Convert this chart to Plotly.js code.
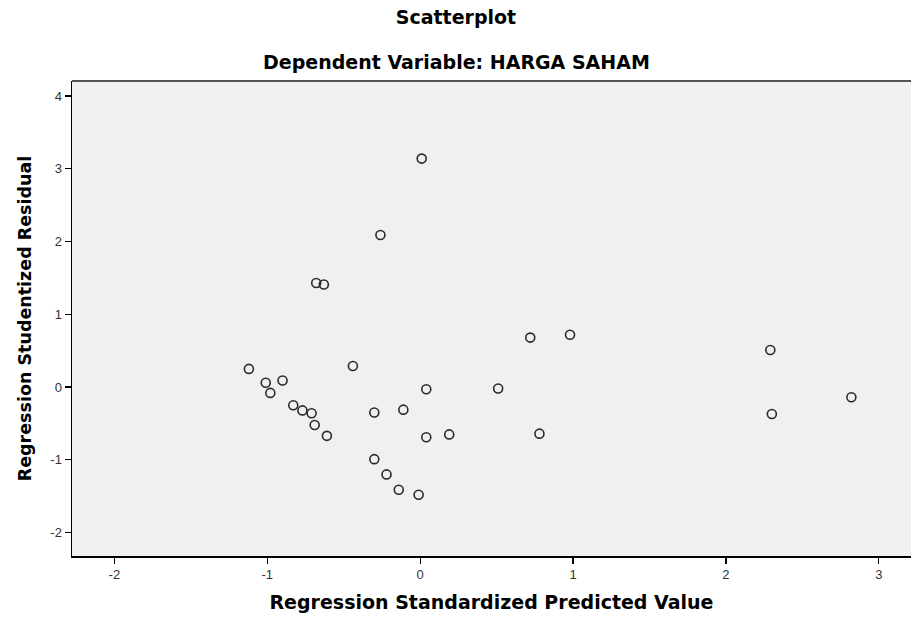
<!DOCTYPE html>
<html>
<head>
<meta charset="utf-8">
<script src="https://cdn.plot.ly/plotly-3.0.1.min.js"></script>
<style>
  html, body { margin: 0; padding: 0; background: #ffffff; }
  #chart { width: 912px; height: 618px; }
</style>
</head>
<body>
<div id="chart"></div>
<script>
// Regression Standardized Predicted Value
const predicted = [
  0.01, -0.26, -0.68, -0.63, -1.12, -0.44, -1.01, -0.90, -0.98, -0.83,
  -0.77, -0.71, -0.69, -0.61, -0.30, -0.11, 0.04, 0.04, -0.30, -0.22,
  -0.14, -0.01, 0.19, 0.51, 0.72, 0.98, 0.78, 2.29, 2.30, 2.82
];
// Regression Studentized Residual
const residual = [
  3.14, 2.09, 1.43, 1.41, 0.25, 0.29, 0.06, 0.09, -0.08, -0.25,
  -0.32, -0.36, -0.52, -0.67, -0.35, -0.31, -0.03, -0.69, -0.99, -1.20,
  -1.41, -1.48, -0.65, -0.02, 0.68, 0.72, -0.64, 0.51, -0.37, -0.14
];
const xTicks = [-2, -1, 0, 1, 2, 3];
const yTicks = [-2, -1, 0, 1, 2, 3, 4];

const titleFont = { family: 'DejaVu Sans, Liberation Sans, Arial, sans-serif', size: 19, color: '#000000', weight: 'bold' };

const trace = {
  type: 'scatter',
  mode: 'markers',
  x: predicted,
  y: residual,
  marker: {
    symbol: 'circle-open',
    size: 9,
    color: '#2a2a2a',
    line: { width: 1.6, color: '#2a2a2a' }
  },
  hoverinfo: 'x+y',
  showlegend: false
};

const layout = {
  width: 912,
  height: 618,
  margin: { l: 72, r: 1, t: 81, b: 62 },
  paper_bgcolor: '#ffffff',
  plot_bgcolor: '#f0f0f0',
  title: {
    text: '<b>Scatterplot</b>',
    font: titleFont,
    xref: 'container',
    x: 0.5,
    xanchor: 'center',
    yref: 'container',
    y: 0.972,
    yanchor: 'middle'
  },
  xaxis: {
    range: [-2.277, 3.21],
    tickvals: xTicks,
    ticktext: xTicks.map(String),
    ticks: 'outside',
    ticklen: 6,
    tickwidth: 1.2,
    tickcolor: '#000000',
    showgrid: false,
    zeroline: false,
    showline: true,
    linecolor: '#000000',
    linewidth: 1.5,
    tickfont: { family: 'Liberation Sans, Arial, sans-serif', size: 13, color: '#333333' },
    title: {
      text: '<b>Regression Standardized Predicted Value</b>',
      font: titleFont,
      standoff: 14
    }
  },
  yaxis: {
    range: [-2.321, 4.206],
    tickvals: yTicks,
    ticktext: yTicks.map(String),
    ticks: 'outside',
    ticklen: 6,
    tickwidth: 1.2,
    tickcolor: '#000000',
    showgrid: false,
    zeroline: false,
    showline: true,
    linecolor: '#000000',
    linewidth: 1.5,
    tickfont: { family: 'Liberation Sans, Arial, sans-serif', size: 13, color: '#333333' },
    title: {
      text: '<b>Regression Studentized Residual</b>',
      font: { family: 'DejaVu Sans, Liberation Sans, Arial, sans-serif', size: 17.5, color: '#000000', weight: 'bold' },
      standoff: 14
    }
  },
  annotations: [
    {
      text: '<b>Dependent Variable: HARGA SAHAM</b>',
      font: titleFont,
      xref: 'paper',
      yref: 'paper',
      x: 0.4577,
      y: 1.039,
      xanchor: 'center',
      yanchor: 'middle',
      showarrow: false
    }
  ],
  shapes: [
    {
      type: 'line',
      xref: 'paper',
      yref: 'paper',
      x0: 0, x1: 1, y0: 1, y1: 1,
      line: { color: '#555555', width: 2 }
    }
  ]
};

Plotly.newPlot('chart', [trace], layout, { displayModeBar: false, staticPlot: true });
</script>
</body>
</html>
